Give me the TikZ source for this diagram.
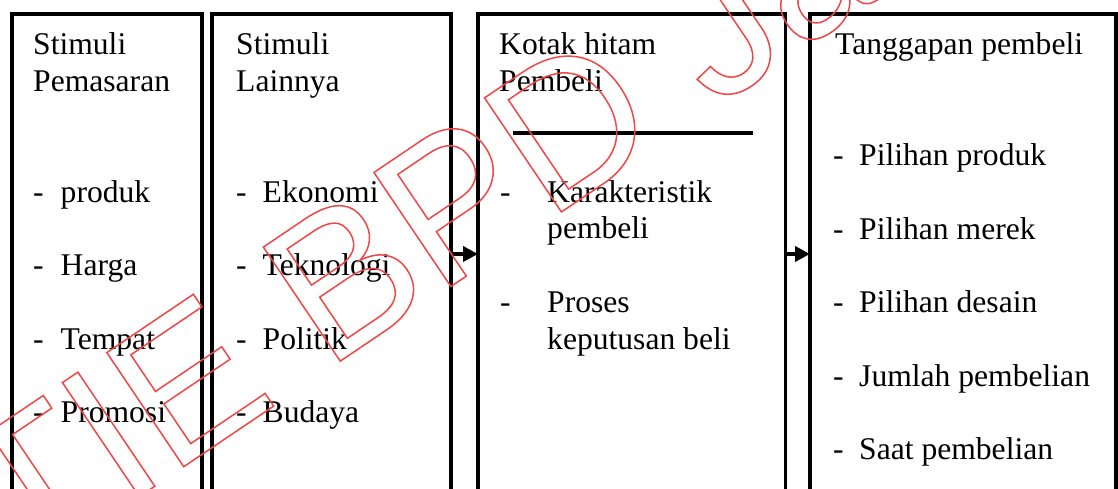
\documentclass[tikz,border=0pt]{standalone}
\usepackage{fontspec}
\setmainfont{Liberation Serif}
\newfontfamily\wmfont{Liberation Sans}
\usetikzlibrary{arrows.meta}
\definecolor{wmred}{RGB}{240,70,70}
% stroke-only text through the xdvipdfmx driver
\newcommand\outlinetext[1]{%
  \special{pdf:literal direct 1 Tr 1.5 w}#1\special{pdf:literal direct 0 Tr}}

\begin{document}
\begin{tikzpicture}[x=1pt,y=-1pt,
  box/.style={draw, line width=3.5pt, minimum height=526pt, inner sep=0pt, outer sep=0pt},
  lbl/.style={anchor=base west, inner sep=0pt, font=\fontsize{31.6}{37}\selectfont},
  link/.style={line width=4.5pt, -{Triangle[length=15pt,width=15pt]}},
  wm/.style={anchor=base west, inner sep=0pt, rotate=34, text=wmred,
    font=\wmfont\fontsize{200}{200}\selectfont}]
\useasboundingbox (0,0) rectangle (1118,488);
\clip (0,0) rectangle (1118,488);

% the four columns, open at the bottom
\node[box, minimum width=190pt]   (b1) at (107,277)    {};
\node[box, minimum width=239pt]   (b2) at (331.5,277)  {};
\node[box, minimum width=307.5pt] (b3) at (631.75,277) {};
\node[box, minimum width=306pt]   (b4) at (963,277)    {};

% column 1
\node[lbl] (h1a) at (33,54.5) {Stimuli};
\node[lbl] (h1b) at (33,91.5) {Pemasaran};
\node[lbl] (d1a) at (33,202)   {-};  \node[lbl] (t1a) at (60.5,202)   {produk};
\node[lbl] (d1b) at (33,275.5) {-};  \node[lbl] (t1b) at (60.5,275.5) {Harga};
\node[lbl] (d1c) at (33,349)   {-};  \node[lbl] (t1c) at (60.5,349)   {Tempat};
\node[lbl] (d1d) at (33,422.5) {-};  \node[lbl] (t1d) at (60.5,422.5) {Promosi};

% column 2
\node[lbl] (h2a) at (236,54.5) {Stimuli};
\node[lbl] (h2b) at (236,91.5) {Lainnya};
\node[lbl] (d2a) at (236,202)   {-};  \node[lbl] (t2a) at (262.5,202)   {Ekonomi};
\node[lbl] (d2b) at (236,275.5) {-};  \node[lbl] (t2b) at (262.5,275.5) {Teknologi};
\node[lbl] (d2c) at (236,349)   {-};  \node[lbl] (t2c) at (262.5,349)   {Politik};
\node[lbl] (d2d) at (236,422.5) {-};  \node[lbl] (t2d) at (262.5,422.5) {Budaya};

% column 3
\node[lbl] (h3a) at (499,54.5) {Kotak hitam};
\node[lbl] (h3b) at (499,91.5) {Pembeli};
\draw[line width=4pt] (513,133) -- (753,133);
\node[lbl] (d3a) at (500,202)   {-};  \node[lbl] (t3a) at (547,202)   {Karakteristik};
                                      \node[lbl] (t3b) at (547,238.5) {pembeli};
\node[lbl] (d3b) at (500,312)   {-};  \node[lbl] (t3c) at (547,312)   {Proses};
                                      \node[lbl] (t3d) at (547,349)   {keputusan beli};

% column 4
\node[lbl] (h4a) at (835,54.5) {Tanggapan pembeli};
\node[lbl] (d4a) at (833,165.5) {-};  \node[lbl] (t4a) at (859,165.5) {Pilihan produk};
\node[lbl] (d4b) at (833,239)   {-};  \node[lbl] (t4b) at (859,239)   {Pilihan merek};
\node[lbl] (d4c) at (833,312.5) {-};  \node[lbl] (t4c) at (859,312.5) {Pilihan desain};
\node[lbl] (d4d) at (833,386)   {-};  \node[lbl] (t4d) at (859,386)   {Jumlah pembelian};
\node[lbl] (d4e) at (833,459.5) {-};  \node[lbl] (t4e) at (859,459.5) {Saat pembelian};

% arrows between the columns
\coordinate (lvl) at (0,254);
\draw[link] (b2.east |- lvl) -- (b3.west |- lvl);
\draw[link] (b3.east |- lvl) -- (b4.west |- lvl);

% outlined watermark
\node[wm] (mark) at (-88,650) {\outlinetext{STIE BPD Ja}};
\end{tikzpicture}
\end{document}
